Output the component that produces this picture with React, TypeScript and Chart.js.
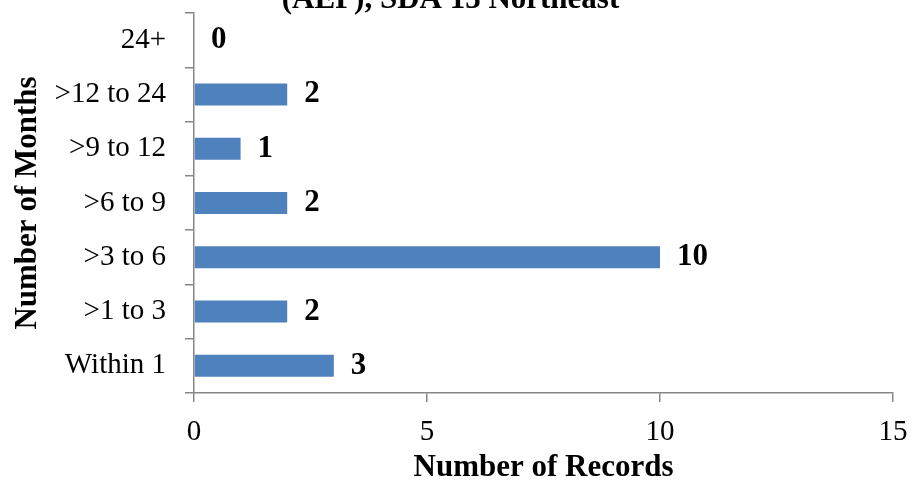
import {useEffect, useRef} from "react";
import {Chart, registerables, Plugin} from "chart.js";

Chart.register(...registerables);

const categories = ["24+", ">12 to 24", ">9 to 12", ">6 to 9", ">3 to 6", ">1 to 3", "Within 1"];
const records = [0, 2, 1, 2, 10, 2, 3];
const xTicks = [0, 5, 10, 15];

const titleText = "(AEP), SDA 13 Northeast";
const xTitle = "Number of Records";
const yTitle = "Number of Months";

const serif = "'Liberation Serif', 'Times New Roman', serif";
const axisGray = "#878787";

// draws the bold value next to the end of each bar
const valueLabels: Plugin<"bar"> = {
  id: "valueLabels",
  afterDatasetsDraw(chart) {
    const ctx = chart.ctx;
    const meta = chart.getDatasetMeta(0);
    const values = chart.data.datasets[0].data as number[];
    ctx.save();
    ctx.font = `bold 31px ${serif}`;
    ctx.fillStyle = "#000";
    ctx.textAlign = "left";
    ctx.textBaseline = "middle";
    meta.data.forEach((bar, i) => {
      ctx.fillText(String(values[i]), bar.x + 17, bar.y);
    });
    ctx.restore();
  },
};

export default function App() {
  const canvasRef = useRef<HTMLCanvasElement>(null);
  const chartInstance = useRef<Chart | null>(null);

  useEffect(() => {
    if (!canvasRef.current) return;
    if (chartInstance.current) chartInstance.current.destroy();

    chartInstance.current = new Chart(canvasRef.current, {
      type: "bar",
      data: {
        labels: categories,
        datasets: [
          {
            data: records,
            backgroundColor: "#4F81BD",
            borderWidth: 0,
            barPercentage: 0.405,
            categoryPercentage: 1,
          },
        ],
      },
      options: {
        indexAxis: "y",
        animation: false,
        responsive: true,
        maintainAspectRatio: false,
        layout: {padding: {left: 8, right: 19, top: 0, bottom: 0}},
        scales: {
          x: {
            min: 0,
            max: 15,
            afterBuildTicks: axis => {
              axis.ticks = xTicks.map(v => ({value: v}));
            },
            afterFit: axis => {
              axis.height = 92;
              axis.paddingLeft = 0;
              axis.paddingRight = 0;
            },
            grid: {
              drawOnChartArea: false,
              drawTicks: true,
              tickLength: 9,
              color: axisGray,
              lineWidth: 1.5,
            },
            border: {color: axisGray, width: 1.5},
            ticks: {
              color: "#000",
              padding: 13,
              font: {family: serif, size: 29},
              maxRotation: 0,
            },
            title: {
              display: true,
              text: xTitle,
              color: "#000",
              font: {family: serif, size: 31, weight: "bold"},
              padding: {top: 0, bottom: -2},
            },
          },
          y: {
            afterFit: axis => {
              axis.width = 186;
            },
            grid: {
              offset: true,
              drawOnChartArea: false,
              drawTicks: true,
              tickLength: 9,
              color: axisGray,
              lineWidth: 1.5,
            },
            border: {color: axisGray, width: 1.5},
            ticks: {
              color: "#000",
              padding: 19,
              font: {family: serif, size: 29},
            },
            title: {
              display: true,
              text: yTitle,
              color: "#000",
              font: {family: serif, size: 31, weight: "bold"},
              padding: {top: 1, bottom: 0},
            },
          },
        },
        plugins: {
          legend: {display: false},
          tooltip: {enabled: false},
          title: {
            display: true,
            text: titleText,
            color: "#000",
            font: {family: serif, size: 31, weight: "bold", lineHeight: 1},
            padding: {top: 14, bottom: -2},
          },
        },
      },
      plugins: [valueLabels],
    });

    return () => {
      if (chartInstance.current) {
        chartInstance.current.destroy();
        chartInstance.current = null;
      }
    };
  }, []);

  return (
    <div style={{position: "fixed", left: 0, top: -30, width: 912, height: 515, background: "#fff"}}>
      <canvas ref={canvasRef} />
    </div>
  );
}
